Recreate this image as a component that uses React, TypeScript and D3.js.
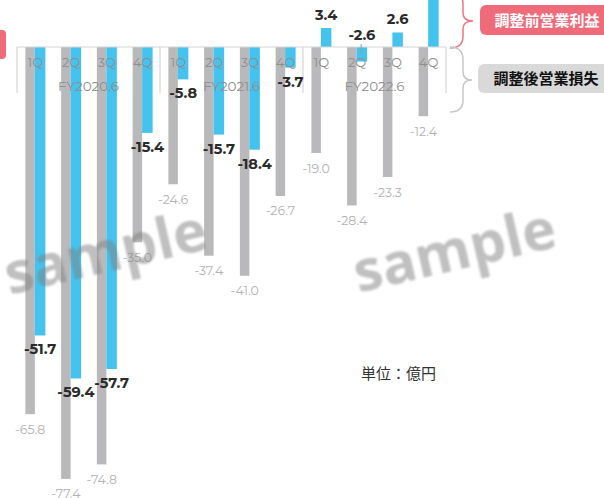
import React from "react";
import * as d3 from "d3";

const quarters = ["1Q", "2Q", "3Q", "4Q", "1Q", "2Q", "3Q", "4Q", "1Q", "2Q", "3Q", "4Q"];
const fiscalYears = ["FY2020.6", "FY2021.6", "FY2022.6"];
const lossAdjusted = [-65.8, -77.4, -74.8, -35.0, -24.6, -37.4, -41.0, -26.7, -19.0, -28.4, -23.3, -12.4];
const profitBefore = [-51.7, -59.4, -57.7, -15.4, -5.8, -15.7, -18.4, -3.7, 3.4, -2.6, 2.6, 11.0];
const legendLabels = ["調整前営業利益", "調整後営業損失"];
const unitLabel = "単位：億円";
const watermark = "sample";

const W = 604;
const H = 498;
const BASE = 47;

export default function App() {
  const x = d3.scaleBand<number>().domain(d3.range(quarters.length)).range([17, 446]).paddingInner(0);
  const y = d3.scaleLinear().domain([0, -80]).range([BASE, BASE + 80 * 5.58]);
  const bw = x.bandwidth();
  const cx = (i: number) => (x(i) as number) + bw / 2;
  const yearX = d3.scaleBand<number>().domain(d3.range(fiscalYears.length)).range([17, 446]);
  const numFont = "Montserrat, Lato, 'Open Sans', sans-serif";

  return (
    <svg width={W} height={H} style={{ position: "absolute", left: 0, top: 0, background: "#fff" }}
      fontFamily="'Noto Sans CJK JP', 'Noto Sans', sans-serif">
      <defs>
        <filter id="soft" x="-10%" y="-10%" width="120%" height="120%">
          <feGaussianBlur stdDeviation="1.2" />
        </filter>
      </defs>
      {/* left cut-off pink tag */}
      <rect x={-8} y={30} width={14} height={29} rx={4} fill="#f06b7a" />

      {/* bars */}
      {lossAdjusted.map((v, i) => (
        <rect key={"g" + i} x={cx(i) - 9.5} y={y(0)} width={9.5} height={y(v) - y(0)} fill="#b9b9bb" />
      ))}
      {profitBefore.map((v, i) => (
        <rect key={"b" + i} x={cx(i)} y={v >= 0 ? y(v) : y(0)} width={10.5}
          height={Math.abs(y(v) - y(0))} fill="#45c3ef" />
      ))}

      {/* axis line and separators */}
      <line x1={17} x2={446} y1={BASE} y2={BASE} stroke="#d6d6d6" strokeWidth={1.2} />
      {[0, 1, 2, 3].map((k) => {
        const xx = k < 3 ? (yearX(k) as number) : 446;
        return <line key={"s" + k} x1={xx} x2={xx} y1={BASE} y2={93} stroke="#d6d6d6" strokeWidth={1.2} />;
      })}

      {/* quarter labels */}
      {quarters.map((q, i) => (
        <text key={"q" + i} x={cx(i) + 0.5} y={66.5} textAnchor="middle" fontFamily={numFont}
          fontSize={13} fill="#8e8e8e" fontWeight={400}>{q}</text>
      ))}
      {fiscalYears.map((f, k) => (
        <text key={"f" + k} x={(yearX(k) as number) + yearX.bandwidth() / 2} y={91} textAnchor="middle"
          fontFamily={numFont} fontSize={13.5} fill="#8e8e8e" fontWeight={400}>{f}</text>
      ))}

      {/* gray labels */}
      {lossAdjusted.map((v, i) => (
        <text key={"gl" + i} x={cx(i) - 4.75} y={Math.min(y(v) + 19.5, H + 2)} textAnchor="middle" fontFamily={numFont}
          fontSize={12.5} fill="#b3b3b3">{v.toFixed(1)}</text>
      ))}
      {/* blue labels (the largest positive one sits above the visible area) */}
      {profitBefore.map((v, i) => {
        const small = v < 0 && v > -3;
        const ly = v >= 0 ? y(v) - 8 : small ? 40 : y(v) + 19;
        if (ly < 0) return null;
        return (
          <text key={"bl" + i} x={cx(i) + 5.25} y={ly} textAnchor="middle" fontFamily={numFont}
            fontSize={14.5} fontWeight={700} fill="#2b2b2b">{v.toFixed(1)}</text>
        );
      })}
      {profitBefore.map((v, i) =>
        v < 0 && v > -3 ? (
          <line key={"ld" + i} x1={cx(i) + 4.5} x2={cx(i) + 4.5} y1={44} y2={54} stroke="#9a9a9a" strokeWidth={1} />
        ) : null
      )}

      {/* braces */}
      <path d="M450,48 Q463,48 463,36 L463,29 Q463,21 473,21 Q463,21 463,13 L463,4 Q463,-8 450,-8"
        fill="none" stroke="#f07585" strokeWidth={1.5} />
      <path d="M450,47 Q463,47 463,60 L463,72 Q463,80 472,80 Q463,80 463,88 L463,100 Q463,112 450,112"
        fill="none" stroke="#c8c8c8" strokeWidth={1.5} />

      {/* legend boxes */}
      <rect x={480} y={5} width={140} height={30} rx={6} fill="#f06b7a" />
      <text x={547} y={25.5} textAnchor="middle" fontSize={15} fontWeight={700} fill="#fff">{legendLabels[0]}</text>
      <rect x={478} y={64} width={140} height={29} rx={6} fill="#d9d9da" />
      <text x={546} y={84} textAnchor="middle" fontSize={15} fontWeight={700} fill="#111">{legendLabels[1]}</text>

      {/* unit */}
      <text x={361} y={379} fontSize={15} fill="#333">{unitLabel}</text>

      {/* watermarks */}
      <g filter="url(#soft)" opacity={0.5}>
        <text x={106} y={272} textAnchor="middle" fontFamily="'Open Sans', sans-serif" fontWeight={700}
          fontSize={57} fill="#808080" transform="rotate(-13 106 255)">{watermark}</text>
        <text x={455} y={270} textAnchor="middle" fontFamily="'Open Sans', sans-serif" fontWeight={700}
          fontSize={57} fill="#808080" transform="rotate(-13 455 253)">{watermark}</text>
      </g>
    </svg>
  );
}
